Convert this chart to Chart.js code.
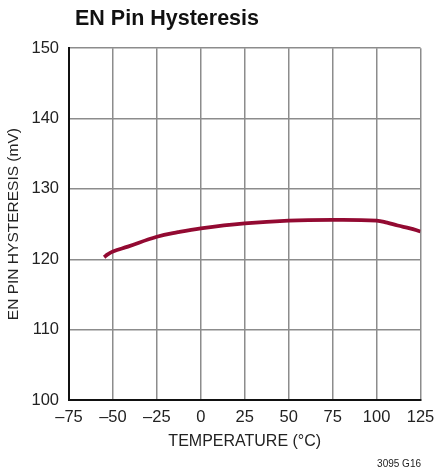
<!DOCTYPE html>
<html>
<head>
<meta charset="utf-8">
<script src="https://cdn.jsdelivr.net/npm/chart.js@4/dist/chart.umd.min.js"></script>
<style>
  html, body { margin: 0; padding: 0; background: #fff; }
  #wrap { width: 434px; height: 469px; }
</style>
</head>
<body>
<div id="wrap"><canvas id="chart" width="434" height="469"></canvas></div>
<script>
// values
const temps = [-55, -53, -50, -41.5, -25, -13, 0, 25, 50, 75, 100, 106, 112, 119, 125];
const hysteresis = [120.3, 120.7, 121.1, 121.8, 123.2, 123.85, 124.4, 125.1, 125.5, 125.6, 125.5, 125.2, 124.8, 124.4, 123.95];
const xTicks = [-75, -50, -25, 0, 25, 50, 75, 100, 125];
const yTicks = [100, 110, 120, 130, 140, 150];

const FONT = "'Liberation Sans', Arial, sans-serif";

const points = temps.map((t, i) => ({ x: t, y: hysteresis[i] }));

// little part number in the bottom right corner
const partLabel = {
    id: 'partLabel',
    afterDraw(chart) {
        const ctx = chart.ctx;
        ctx.save();
        ctx.font = "10px " + FONT;
        ctx.fillStyle = '#222';
        ctx.textAlign = 'right';
        ctx.textBaseline = 'middle';
        ctx.fillText('3095 G16', 421, 464);
        ctx.restore();
    }
};

new Chart(document.getElementById('chart'), {
    type: 'line',
    data: {
        datasets: [{
            data: points,
            borderColor: '#930a32',
            borderWidth: 3.8,
            pointRadius: 0,
            tension: 0.4,
            fill: false
        }]
    },
    options: {
        responsive: false,
        animation: false,
        layout: { padding: { left: 0, right: 0, top: 0, bottom: 14 } },
        plugins: {
            legend: { display: false },
            tooltip: { enabled: false },
            title: {
                display: true,
                text: ' EN Pin Hysteresis',
                align: 'start',
                fullSize: false,
                color: '#111',
                font: { family: FONT, size: 21.5, weight: 'bold', lineHeight: 1.15 },
                padding: { top: 7, bottom: 16.5 }
            }
        },
        scales: {
            x: {
                type: 'linear',
                min: -75,
                max: 125,
                afterBuildTicks: (s) => { s.ticks = xTicks.map(v => ({ value: v })); },
                afterFit: (s) => {
                    s.height = 55;
                    s.paddingLeft = 0;
                    s.paddingRight = 13.5;
                },
                ticks: {
                    color: '#222',
                    padding: 8,
                    maxRotation: 0,
                    font: { family: FONT, size: 16.5 },
                    callback: (v) => String(v).replace('-', '\u2013')
                },
                grid: { color: '#8c8c8c', lineWidth: 1.5, drawTicks: false },
                border: { color: '#111', width: 2 },
                title: {
                    display: true,
                    text: 'TEMPERATURE (°C)',
                    color: '#222',
                    font: { family: FONT, size: 16 },
                    padding: { top: 2 }
                }
            },
            y: {
                type: 'linear',
                min: 100,
                max: 150,
                afterBuildTicks: (s) => { s.ticks = yTicks.map(v => ({ value: v })); },
                afterFit: (s) => { s.width = 69; },
                ticks: {
                    color: '#222',
                    padding: 10,
                    font: { family: FONT, size: 16.5 }
                },
                grid: { color: '#8c8c8c', lineWidth: 1.5, drawTicks: false },
                border: { color: '#111', width: 2 },
                title: {
                    display: true,
                    text: 'EN PIN HYSTERESIS (mV)',
                    color: '#222',
                    font: { family: FONT, size: 15.5 },
                    padding: { bottom: 2 }
                }
            }
        }
    },
    plugins: [partLabel]
});
</script>
</body>
</html>
